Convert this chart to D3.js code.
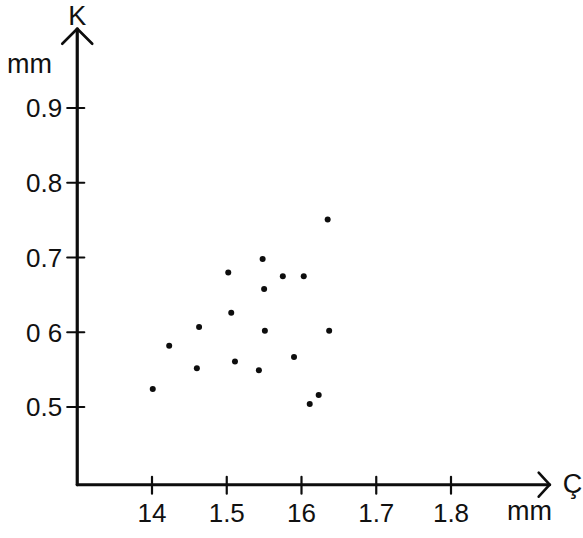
<!DOCTYPE html>
<html lang="en">
<head>
<meta charset="UTF-8" />
<title>K vs Ç scatter</title>
<script src="https://cdn.jsdelivr.net/npm/d3@7"></script>
<style>
  html, body { margin: 0; padding: 0; background: #fff; }
  svg text { font-family: "Liberation Sans", Arial, sans-serif; fill: #111; }
</style>
</head>
<body>
<div id="chart"></div>
<script>
// tick values and the labels as written on the figure
const xTicks = [1.4, 1.5, 1.6, 1.7, 1.8];
const xTickLabels = ['14', '1.5', '16', '1.7', '1.8'];
const yTicks = [0.5, 0.6, 0.7, 0.8, 0.9];
const yTickLabels = ['0.5', '0 6', '0.7', '0.8', '0.9'];

// measurements: Ç (mm) and K (mm)
const cValues = [1.502, 1.506, 1.463, 1.423, 1.511, 1.460, 1.401, 1.635, 1.548,
                 1.575, 1.603, 1.550, 1.551, 1.637, 1.590, 1.543, 1.623, 1.611];
const kValues = [0.680, 0.626, 0.607, 0.582, 0.561, 0.552, 0.524, 0.751, 0.698,
                 0.675, 0.675, 0.658, 0.602, 0.602, 0.567, 0.549, 0.516, 0.504];

const width = 583, height = 538;
const xOrigin = 1.3, xEnd = 1.932;
const yOrigin = 0.396, yEnd = 1.006;

const x = d3.scaleLinear().domain([1.4, 1.8]).range([152, 451]);
const y = d3.scaleLinear().domain([0.5, 0.9]).range([407, 108]);

const svg = d3.select('#chart').append('svg')
  .attr('width', width).attr('height', height);

const ink = '#0d0d0d';
const x0 = x(xOrigin), y0 = y(yOrigin);

// axis lines
const axes = svg.append('g').attr('stroke', ink).attr('fill', 'none')
  .attr('stroke-linecap', 'round').attr('stroke-linejoin', 'round');
axes.append('line').attr('x1', x0).attr('y1', y0).attr('x2', x(xEnd)).attr('y2', y0)
  .attr('stroke-width', 3.2);
axes.append('line').attr('x1', x0).attr('y1', y0).attr('x2', x0).attr('y2', y(yEnd))
  .attr('stroke-width', 3.2);

// arrow heads
axes.append('path')
  .attr('d', `M${x(xEnd) - 11},${y0 - 12} L${x(xEnd)},${y0} L${x(xEnd) - 11},${y0 + 12}`)
  .attr('stroke-width', 2.6);
axes.append('path')
  .attr('d', `M${x0 - 15},${y(yEnd) + 15} L${x0},${y(yEnd)} L${x0 + 15},${y(yEnd) + 15}`)
  .attr('stroke-width', 2.6);

// ticks crossing the axes
axes.append('g').selectAll('line').data(xTicks).join('line')
  .attr('x1', d => x(d)).attr('x2', d => x(d))
  .attr('y1', y0 - 8).attr('y2', y0 + 9)
  .attr('stroke-width', 2.2);
axes.append('g').selectAll('line').data(yTicks).join('line')
  .attr('y1', d => y(d)).attr('y2', d => y(d))
  .attr('x1', x0 - 10).attr('x2', x0 + 7)
  .attr('stroke-width', 2.2);

// tick labels
svg.append('g').style('font-size', '26px').attr('text-anchor', 'middle')
  .selectAll('text').data(xTicks).join('text')
  .attr('x', d => x(d)).attr('y', y0 + 37)
  .text((d, i) => xTickLabels[i]);
svg.append('g').style('font-size', '26px').attr('text-anchor', 'end')
  .selectAll('text').data(yTicks).join('text')
  .attr('x', x0 - 15).attr('y', d => y(d)).attr('dy', '0.36em')
  .text((d, i) => yTickLabels[i]);

// axis titles and units
svg.append('text').attr('x', x0).attr('y', 25).attr('text-anchor', 'middle')
  .style('font-size', '27px').text('K');
svg.append('text').attr('x', 7).attr('y', 73).style('font-size', '27px').text('mm');
svg.append('text').attr('x', x(xEnd) + 13).attr('y', y0 + 8)
  .style('font-size', '27px').text('Ç');
svg.append('text').attr('x', 507).attr('y', 520).style('font-size', '27px').text('mm');

// points
svg.append('g').attr('fill', ink)
  .selectAll('circle').data(cValues).join('circle')
  .attr('cx', d => x(d))
  .attr('cy', (d, i) => y(kValues[i]))
  .attr('r', 3);
</script>
</body>
</html>
